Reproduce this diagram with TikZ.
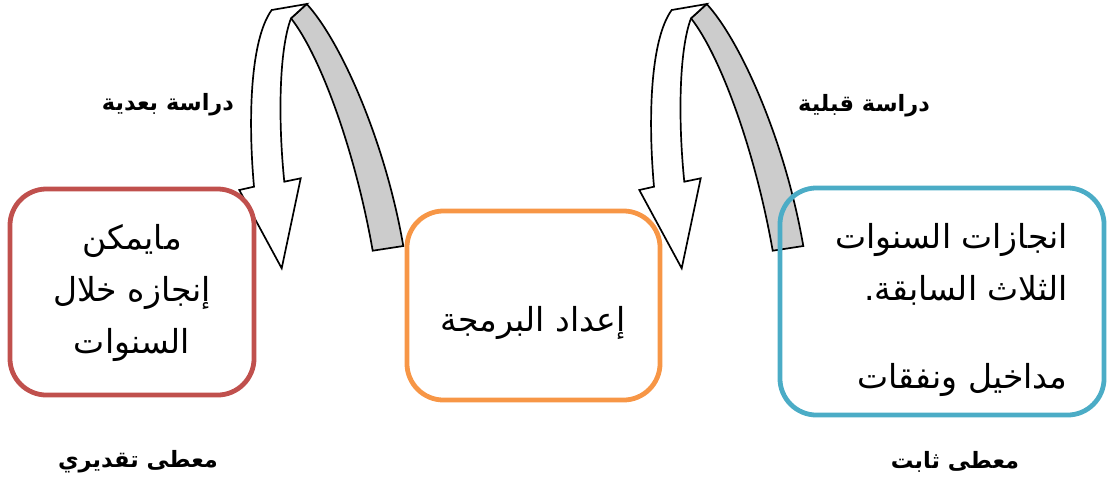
\documentclass[tikz,border=0pt]{standalone}
\usepackage{fontspec}
\newfontfamily\arabicfont[Script=Arabic]{DejaVu Sans}
\TeXXeTstate=1
\usepackage{tikz}
\usetikzlibrary{positioning}
\definecolor{plnRed}   {RGB}{192,  80,  77}
\definecolor{plnOrange}{RGB}{247, 150,  70}
\definecolor{plnBlue}  {RGB}{ 75, 172, 198}
\definecolor{plnGray}  {RGB}{204, 204, 204}

\begin{document}
\begin{tikzpicture}[
  x=0.025cm, y=-0.025cm,
  stagebox/.style={draw, line width=3.4pt, rounded corners=26pt},
  boxtext/.style={font=\arabicfont\fontsize{23.5}{37}\selectfont, inner sep=0pt},
  steplabel/.style={font=\arabicfont\bfseries\fontsize{16}{18}\selectfont, inner sep=0pt},
  curlback/.style={draw, line width=1.2pt, fill=plnGray},
  curlfront/.style={draw, line width=1.2pt, fill=white},
]
  % Scale: 1 unit = 1px, y grows downwards
  \useasboundingbox (0,0) rectangle (1111,482);

  % Curled arrows (second one shifted by 400px)
  \foreach \dx in {0,400} {
    \begin{scope}[shift={(\dx,0)}]
      \draw[curlback] (291,18.3) -- (306.7,4)
        .. controls (340,40) and (385,140) .. (403.3,246)
        -- (372.7,250.7)
        .. controls (355,150) and (320,55) .. (291,18.3) -- cycle;
      \draw[curlfront] (271.7,10) -- (306.7,4) -- (291,18.3)
        .. controls (279,50) and (278,120) .. (284.3,181.7)
        -- (300.7,178.3) -- (281.7,268.3) -- (239.3,190) -- (254,186.7)
        .. controls (248,120) and (250,40) .. (271.7,10) -- cycle;
    \end{scope}
  }

  % Boxes
  \node[stagebox, draw=plnRed, minimum width=6.1cm, minimum height=5.15cm]
    (future) at (132,292) {};
  \node[stagebox, draw=plnOrange, minimum width=6.325cm, minimum height=4.725cm]
    (program) at (533.5,305.5) {};
  \node[stagebox, draw=plnBlue, minimum width=8.1cm, minimum height=5.675cm]
    (past) at (942,301.5) {};

  % Box texts
  \node[boxtext, align=center] (futureText) at (132,293)
    {\beginR مايمكن\endR\\ \beginR إنجازه خلال\endR\\ \beginR السنوات\endR};
  \node[boxtext] (programText) at (533,323) {\beginR إعداد البرمجة\endR};
  \node[boxtext, align=right, anchor=east] (pastText) at (1068,310)
    {\beginR انجازات السنوات\endR\\ \beginR الثلاث السابقة.\endR\\[26pt] \beginR مداخيل ونفقات\endR};

  % Labels
  \node[steplabel] (afterStudy) at (168,105) {\beginR دراسة بعدية\endR};
  \node[steplabel] (beforeStudy) at (864,106) {\beginR دراسة قبلية\endR};
  \node[steplabel] (estimated) at (138,462) {\beginR معطى تقديري\endR};
  \node[steplabel] (fixed) at (955,462) {\beginR معطى ثابت\endR};

\end{tikzpicture}
\end{document}
